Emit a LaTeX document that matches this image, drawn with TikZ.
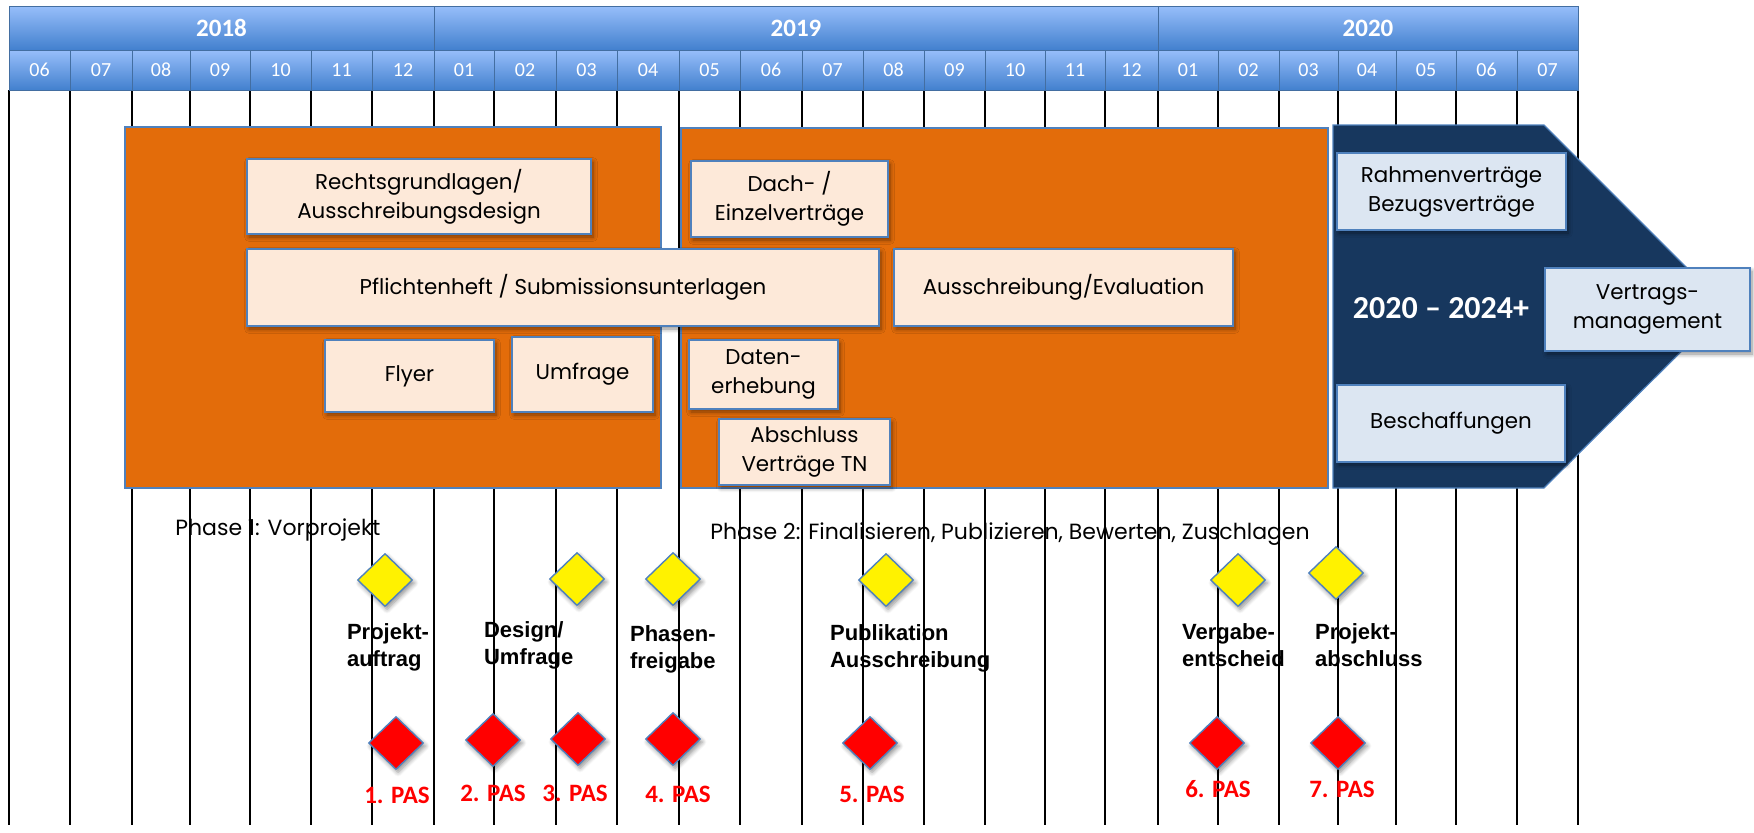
\documentclass[tikz,border=0pt]{standalone}
\usepackage{fontspec}
\setmainfont{Poppins}
\newfontfamily\calibri{Carlito}
\newfontfamily\arialb{Liberation Sans}
\usetikzlibrary{shapes.geometric,shadows.blur}

\definecolor{phaseorange}{RGB}{227,108,10}
\definecolor{taskfill}{RGB}{253,233,217}
\definecolor{edgeblue}{RGB}{79,129,189}
\definecolor{navy}{RGB}{23,55,94}
\definecolor{contractfill}{RGB}{220,230,242}
\definecolor{bartop}{RGB}{151,190,250}
\definecolor{barbottom}{RGB}{66,128,206}

\tikzset{
	softshadow/.style={blur shadow={shadow blur steps=6, shadow xshift=1pt, shadow yshift=-1.5pt, shadow opacity=45}},
	month/.style={draw=edgeblue!85!black, top color=bartop, bottom color=barbottom, minimum height=20pt, inner sep=0pt, text=white, font=\calibri\fontsize{10}{12}\selectfont},
	year/.style={month, minimum height=22pt, font=\calibri\bfseries\fontsize{12.5}{14}\selectfont},
	gridline/.style={black, line width=0.9pt},
	phasebox/.style={draw=edgeblue, line width=0.6pt, fill=phaseorange, inner sep=0pt},
	task/.style={draw=edgeblue, line width=0.9pt, fill=taskfill, align=center, inner sep=0pt, font=\fontsize{10.7}{14.5}\selectfont, softshadow},
	contract/.style={task, fill=contractfill},
	milestone/.style={diamond, draw=edgeblue, line width=0.7pt, fill=yellow, minimum width=27.5pt, minimum height=26.5pt, inner sep=0pt, softshadow},
	pas/.style={milestone, fill=red},
	mslabel/.style={anchor=west, align=left, font=\arialb\bfseries\fontsize{11}{13.5}\selectfont},
	paslabel/.style={text=red, font=\calibri\bfseries\fontsize{12.5}{14}\selectfont},
	phaselabel/.style={anchor=base west, inner sep=0pt, font=\fontsize{11}{13}\selectfont},
}

\begin{document}
\begin{tikzpicture}[x=0.5pt, y=-0.5pt]
	\useasboundingbox (0,0) rectangle (1754,832);
	%grid
	\foreach \x in {9,70,132,190,250,311,372,434,494,556,617,679,740,802,863,924,985,1045,1105,1158,1218,1279,1338,1396,1456,1517,1578}
	\draw[gridline] (\x,90) -- (\x,825);
	%months
	\foreach \a/\b/\m [count=\i] in {9/70/06, 70/132/07, 132/190/08, 190/250/09, 250/311/10, 311/372/11, 372/434/12,
		434/494/01, 494/556/02, 556/617/03, 617/679/04, 679/740/05, 740/802/06, 802/863/07, 863/924/08, 924/985/09,
		985/1045/10, 1045/1105/11, 1105/1158/12, 1158/1218/01, 1218/1279/02, 1279/1338/03, 1338/1396/04,
		1396/1456/05, 1456/1517/06, 1517/1578/07}
	\node[month, minimum width={(\b-\a)*0.5pt}] (m\i) at ({(\a+\b)/2},70) {\m};
	%years
	\node[year, minimum width=212.5pt] (y2018) at (221.5,28) {2018};
	\node[year, minimum width=362pt] (y2019) at (796,28) {2019};
	\node[year, minimum width=210pt] (y2020) at (1368,28) {2020};
	%phases
	\node[phasebox, minimum width=268pt, minimum height=180.5pt] (phaseone) at (393,307.5) {};
	\node[phasebox, minimum width=323.5pt, minimum height=180pt] (phasetwo) at (1004.5,308) {};
	\filldraw[draw=edgeblue, line width=0.6pt, fill=navy]
	(1333,125) -- (1544,125) -- (1726,307) -- (1544,488) -- (1333,488) -- cycle;
	\node[text=white, font=\calibri\bfseries\fontsize{16}{18}\selectfont] (span) at (1441,308) {2020 – 2024+};
	%tasks
	\node[task, minimum width=172pt, minimum height=37.5pt] (recht) at (419,196.5) {Rechtsgrundlagen/\\Ausschreibungsdesign};
	\node[task, minimum width=316pt, minimum height=38.5pt] (pflicht) at (563,287.5) {Pflichtenheft / Submissionsunterlagen};
	\node[task, minimum width=84.5pt, minimum height=36pt] (flyer) at (409.5,376) {Flyer};
	\node[task, minimum width=70.5pt, minimum height=37.5pt] (umfrage) at (582.5,374.5) {Umfrage};
	\node[task, minimum width=98.5pt, minimum height=38pt] (dach) at (789.5,199) {Dach- /\\Einzelverträge};
	\node[task, minimum width=169.5pt, minimum height=38.5pt] (ausschr) at (1063.5,287.5) {Ausschreibung/Evaluation};
	\node[task, minimum width=74.5pt, minimum height=34.5pt] (daten) at (763.5,374.5) {Daten-\\erhebung};
	\node[task, minimum width=85.5pt, minimum height=33pt] (abschluss) at (804.5,452) {Abschluss\\Verträge TN};
	\node[contract, minimum width=114.5pt, minimum height=38.5pt] (rahmen) at (1451.5,191.5) {Rahmenverträge\\Bezugsverträge};
	\node[contract, minimum width=102.5pt, minimum height=41.5pt] (vertrag) at (1647.5,309.5) {Vertrags-\\management};
	\node[contract, minimum width=114pt, minimum height=38.5pt] (beschaff) at (1451,423.5) {Beschaffungen};
	%labels
	\node[phaselabel] (phaseonelabel) at (175,535) {Phase 1: Vorprojekt};
	\node[phaselabel] (phasetwolabel) at (710,539) {Phase 2: Finalisieren, Publizieren, Bewerten, Zuschlagen};
	%milestones
	\node[milestone] (ms1) at (385,580) {};
	\node[milestone] (ms2) at (577,579) {};
	\node[milestone] (ms3) at (673,579) {};
	\node[milestone] (ms4) at (886,580) {};
	\node[milestone] (ms5) at (1238,580) {};
	\node[milestone] (ms6) at (1336,573) {};
	\node[mslabel] (ms1text) at (340,647) {Projekt-\\auftrag};
	\node[mslabel] (ms2text) at (477,645) {Design/\\Umfrage};
	\node[mslabel] (ms3text) at (623,649) {Phasen-\\freigabe};
	\node[mslabel] (ms4text) at (823,648) {Publikation\\Ausschreibung};
	\node[mslabel] (ms5text) at (1175,645) {Vergabe-\\entscheid};
	\node[mslabel] (ms6text) at (1308,645) {Projekt-\\abschluss};
	%PAS
	\foreach \x/\y/\lx/\ly [count=\i] in {396/743/397/795, 493/740/493/793, 578/739/575/793, 673/739/678/794,
		870/743/872/794, 1217/743/1218/789, 1338/743/1342/789}
	{
		\node[pas] (pas\i) at (\x,\y) {};
		\node[paslabel] (pas\i text) at (\lx,\ly) {\i. PAS};
	}
\end{tikzpicture}
\end{document}
